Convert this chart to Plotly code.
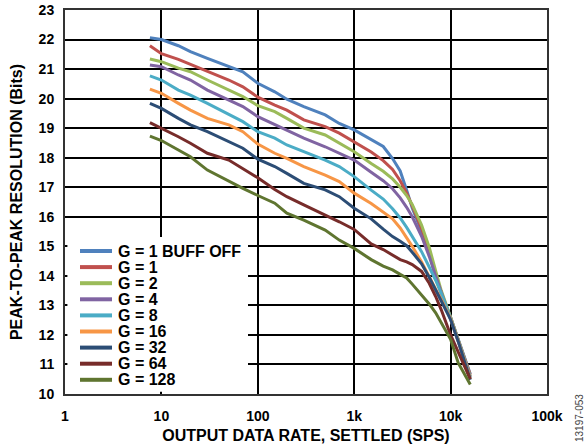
import plotly.graph_objects as go

# Output data rate (SPS)
odr = [7.6, 10, 15, 20, 30, 50, 70, 100, 150, 200, 300, 500, 700, 1000, 1500,
       2000, 2500, 3000, 3500, 4000, 5000, 6000, 7000, 8000, 10000, 12000, 16000]

g1_buff_off = [22.06, 22.00, 21.79, 21.59, 21.36, 21.08, 20.91, 20.52, 20.23, 19.98, 19.73, 19.45, 19.16, 18.94, 18.61,
               18.38, 17.97, 17.55, 16.90, 16.30, 15.50, 14.78, 13.95, 13.45, 12.60, 11.85, 10.68]
g1 = [21.79, 21.52, 21.33, 21.16, 20.91, 20.63, 20.40, 20.05, 19.78, 19.61, 19.28, 19.05, 18.83, 18.54, 18.19,
      17.90, 17.60, 17.22, 16.80, 16.37, 15.60, 14.85, 13.95, 13.40, 12.58, 11.82, 10.65]
g2 = [21.34, 21.25, 21.03, 20.91, 20.63, 20.29, 20.07, 19.76, 19.56, 19.33, 19.00, 18.77, 18.49, 18.20, 17.80,
      17.54, 17.28, 17.00, 16.72, 16.42, 15.72, 14.97, 14.17, 13.50, 12.60, 11.85, 10.60]
g4 = [21.14, 21.08, 20.80, 20.63, 20.29, 19.95, 19.73, 19.39, 19.11, 18.94, 18.66, 18.37, 18.15, 17.92, 17.51,
      17.22, 16.95, 16.64, 16.32, 16.00, 15.34, 14.66, 14.00, 13.45, 12.58, 11.82, 10.58]
g8 = [20.77, 20.63, 20.29, 20.12, 19.84, 19.45, 19.22, 18.88, 18.66, 18.43, 18.20, 17.92, 17.70, 17.36, 16.90,
      16.60, 16.27, 15.96, 15.64, 15.34, 14.82, 14.30, 13.85, 13.40, 12.57, 11.82, 10.55]
g16 = [20.32, 20.18, 19.84, 19.61, 19.33, 19.11, 18.88, 18.46, 18.15, 17.98, 17.70, 17.41, 17.19, 16.80, 16.45,
       16.17, 15.93, 15.62, 15.30, 15.00, 14.47, 13.95, 13.55, 13.20, 12.55, 11.80, 10.52]
g32 = [19.84, 19.67, 19.33, 19.11, 18.88, 18.54, 18.32, 17.95, 17.70, 17.47, 17.13, 16.91, 16.68, 16.29, 15.93,
       15.58, 15.33, 15.17, 15.02, 14.80, 14.41, 13.95, 13.50, 13.15, 12.52, 11.78, 10.48]
g64 = [19.19, 19.00, 18.71, 18.49, 18.15, 17.92, 17.62, 17.32, 16.92, 16.68, 16.40, 16.06, 15.83, 15.57, 15.08,
       14.89, 14.70, 14.55, 14.47, 14.38, 14.15, 13.75, 13.30, 12.85, 12.00, 11.42, 10.50]
g128 = [18.73, 18.58, 18.26, 18.03, 17.58, 17.19, 16.96, 16.72, 16.46, 16.12, 15.89, 15.55, 15.21, 14.93, 14.55,
        14.33, 14.20, 14.05, 13.93, 13.72, 13.35, 13.05, 12.75, 12.40, 11.85, 11.05, 10.32]

series_names = ["G = 1 BUFF OFF", "G = 1", "G = 2", "G = 4", "G = 8",
                "G = 16", "G = 32", "G = 64", "G = 128"]
series_values = [g1_buff_off, g1, g2, g4, g8, g16, g32, g64, g128]
colors = ["#4F81BD", "#C0504D", "#9BBB59", "#8064A2", "#4BACC6",
          "#F79646", "#2C4D75", "#772C2A", "#5F7530"]

x_tickvals = [1, 10, 100, 1000, 10000, 100000]
x_ticktext = ["1", "10", "100", "1k", "10k", "100k"]

FONT = "Arial, 'Liberation Sans', sans-serif"

fig = go.Figure()
for name, vals, col in zip(series_names, series_values, colors):
    fig.add_trace(go.Scatter(x=odr, y=vals, name=name, mode="lines",
                             line=dict(color=col, width=3), showlegend=False))

# Legend built as swatches + text (compact spacing as in reference)
W, H = 482.0, 384.0
legend_top_px = 143.0   # distance from plot bottom to first row centre
row_px = 16.1
shapes = [dict(type="rect", xref="paper", yref="paper", x0=0.005, x1=183 / W,
               y0=0.006, y1=157 / H, fillcolor="white", line=dict(width=0),
               layer="above")]
annotations = []
for i, (name, col) in enumerate(zip(series_names, colors)):
    yc = (legend_top_px - i * row_px) / H
    shapes.append(dict(type="line", xref="paper", yref="paper",
                       x0=15 / W, x1=47 / W, y0=yc, y1=yc, layer="above",
                       line=dict(color=col, width=4)))
    annotations.append(dict(text=name, xref="paper", yref="paper",
                            x=51 / W, y=yc, xanchor="left", yanchor="middle",
                            showarrow=False,
                            font=dict(family=FONT, size=16, color="black", weight="bold")))

annotations.append(dict(text="13197-053", xref="paper", yref="paper",
                        x=(579 - 65) / W, y=(394 - 418) / H, textangle=-90,
                        xanchor="center", yanchor="middle", showarrow=False,
                        font=dict(family=FONT, size=10, color="#444")))

fig.update_layout(
    width=587, height=448,
    margin=dict(l=65, r=40, t=10, b=54),
    paper_bgcolor="white", plot_bgcolor="white",
    shapes=shapes, annotations=annotations,
    font=dict(family=FONT, color="black"),
)
fig.update_xaxes(type="log", range=[0, 5], tickvals=x_tickvals, ticktext=x_ticktext,
                 automargin=False,
                 showgrid=True, gridcolor="black", gridwidth=1.5,
                 showline=True, linecolor="#333", linewidth=2, mirror=True,
                 ticks="", ticklabelstandoff=8,
                 tickfont=dict(family=FONT, size=14, color="black", weight="bold"),
                 title=dict(text="OUTPUT DATA RATE, SETTLED (SPS)", standoff=7,
                            font=dict(family=FONT, size=16, color="black", weight="bold")))
fig.update_yaxes(range=[10, 23], dtick=1, automargin=False,
                 showgrid=True, gridcolor="black", gridwidth=1.5,
                 showline=True, linecolor="#333", linewidth=2, mirror=True,
                 ticks="", ticklabelstandoff=6, zeroline=False,
                 tickfont=dict(family=FONT, size=14, color="black", weight="bold"),
                 title=dict(text="PEAK-TO-PEAK RESOLUTION (Bits)", standoff=12,
                            font=dict(family=FONT, size=16, color="black", weight="bold")))

fig.write_html("out.html", config={"displayModeBar": False},
               post_script="document.body.style.margin='0';")
